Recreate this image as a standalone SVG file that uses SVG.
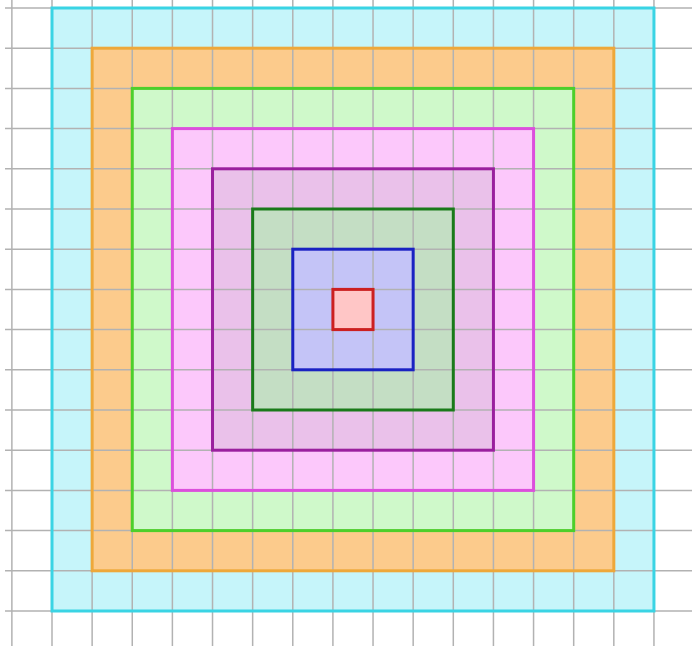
<svg xmlns="http://www.w3.org/2000/svg" width="692" height="646" viewBox="0 0 692 646">
<style>
.grid line{stroke:#b2b2b2;stroke-width:1.5}
.out{fill:none;stroke-width:3}
</style>
<rect width="692" height="646" fill="#ffffff"/>
<g id="fills">
<g id="sq-cyan"><rect x="52" y="8" width="601.95" height="603" fill="#c6f5fa"/></g>
<g id="sq-orange"><rect x="92.13" y="48.2" width="521.69" height="522.6" fill="#fccb8c"/></g>
<g id="sq-lightgreen"><rect x="132.26" y="88.4" width="441.43" height="442.2" fill="#cff9ca"/></g>
<g id="sq-pink"><rect x="172.39" y="128.6" width="361.17" height="361.8" fill="#fcc8fb"/></g>
<g id="sq-purple"><rect x="212.52" y="168.8" width="280.91" height="281.4" fill="#eac1ea"/></g>
<g id="sq-darkgreen"><rect x="252.65" y="209" width="200.65" height="201" fill="#c4dec4"/></g>
<g id="sq-blue"><rect x="292.78" y="249.2" width="120.39" height="120.6" fill="#c4c4f7"/></g>
<g id="sq-red"><rect x="332.91" y="289.4" width="40.13" height="40.2" fill="#ffc6c6"/></g>
</g>
<g class="grid">
<line x1="11.87" y1="0" x2="11.87" y2="646"/>
<line x1="52" y1="0" x2="52" y2="646"/>
<line x1="92.13" y1="0" x2="92.13" y2="646"/>
<line x1="132.26" y1="0" x2="132.26" y2="646"/>
<line x1="172.39" y1="0" x2="172.39" y2="646"/>
<line x1="212.52" y1="0" x2="212.52" y2="646"/>
<line x1="252.65" y1="0" x2="252.65" y2="646"/>
<line x1="292.78" y1="0" x2="292.78" y2="646"/>
<line x1="332.91" y1="0" x2="332.91" y2="646"/>
<line x1="373.04" y1="0" x2="373.04" y2="646"/>
<line x1="413.17" y1="0" x2="413.17" y2="646"/>
<line x1="453.3" y1="0" x2="453.3" y2="646"/>
<line x1="493.43" y1="0" x2="493.43" y2="646"/>
<line x1="533.56" y1="0" x2="533.56" y2="646"/>
<line x1="573.69" y1="0" x2="573.69" y2="646"/>
<line x1="613.82" y1="0" x2="613.82" y2="646"/>
<line x1="653.95" y1="0" x2="653.95" y2="646"/>
<line x1="5" y1="8" x2="692" y2="8"/>
<line x1="5" y1="48.2" x2="692" y2="48.2"/>
<line x1="5" y1="88.4" x2="692" y2="88.4"/>
<line x1="5" y1="128.6" x2="692" y2="128.6"/>
<line x1="5" y1="168.8" x2="692" y2="168.8"/>
<line x1="5" y1="209" x2="692" y2="209"/>
<line x1="5" y1="249.2" x2="692" y2="249.2"/>
<line x1="5" y1="289.4" x2="692" y2="289.4"/>
<line x1="5" y1="329.6" x2="692" y2="329.6"/>
<line x1="5" y1="369.8" x2="692" y2="369.8"/>
<line x1="5" y1="410" x2="692" y2="410"/>
<line x1="5" y1="450.2" x2="692" y2="450.2"/>
<line x1="5" y1="490.4" x2="692" y2="490.4"/>
<line x1="5" y1="530.6" x2="692" y2="530.6"/>
<line x1="5" y1="570.8" x2="692" y2="570.8"/>
<line x1="5" y1="611" x2="692" y2="611"/>
</g>
<g id="outlines">
<rect id="out-cyan" class="out" x="52" y="8" width="601.95" height="603" stroke="#3ad4e4"/>
<rect id="out-orange" class="out" x="92.13" y="48.2" width="521.69" height="522.6" stroke="#eea83a"/>
<rect id="out-lightgreen" class="out" x="132.26" y="88.4" width="441.43" height="442.2" stroke="#4dcf2b"/>
<rect id="out-pink" class="out" x="172.39" y="128.6" width="361.17" height="361.8" stroke="#dc4fdc"/>
<rect id="out-purple" class="out" x="212.52" y="168.8" width="280.91" height="281.4" stroke="#9a209e"/>
<rect id="out-darkgreen" class="out" x="252.65" y="209" width="200.65" height="201" stroke="#1a7a1a"/>
<rect id="out-blue" class="out" x="292.78" y="249.2" width="120.39" height="120.6" stroke="#1a22c2"/>
<rect id="out-red" class="out" x="332.91" y="289.4" width="40.13" height="40.2" stroke="#cc2020"/>
</g>
</svg>
